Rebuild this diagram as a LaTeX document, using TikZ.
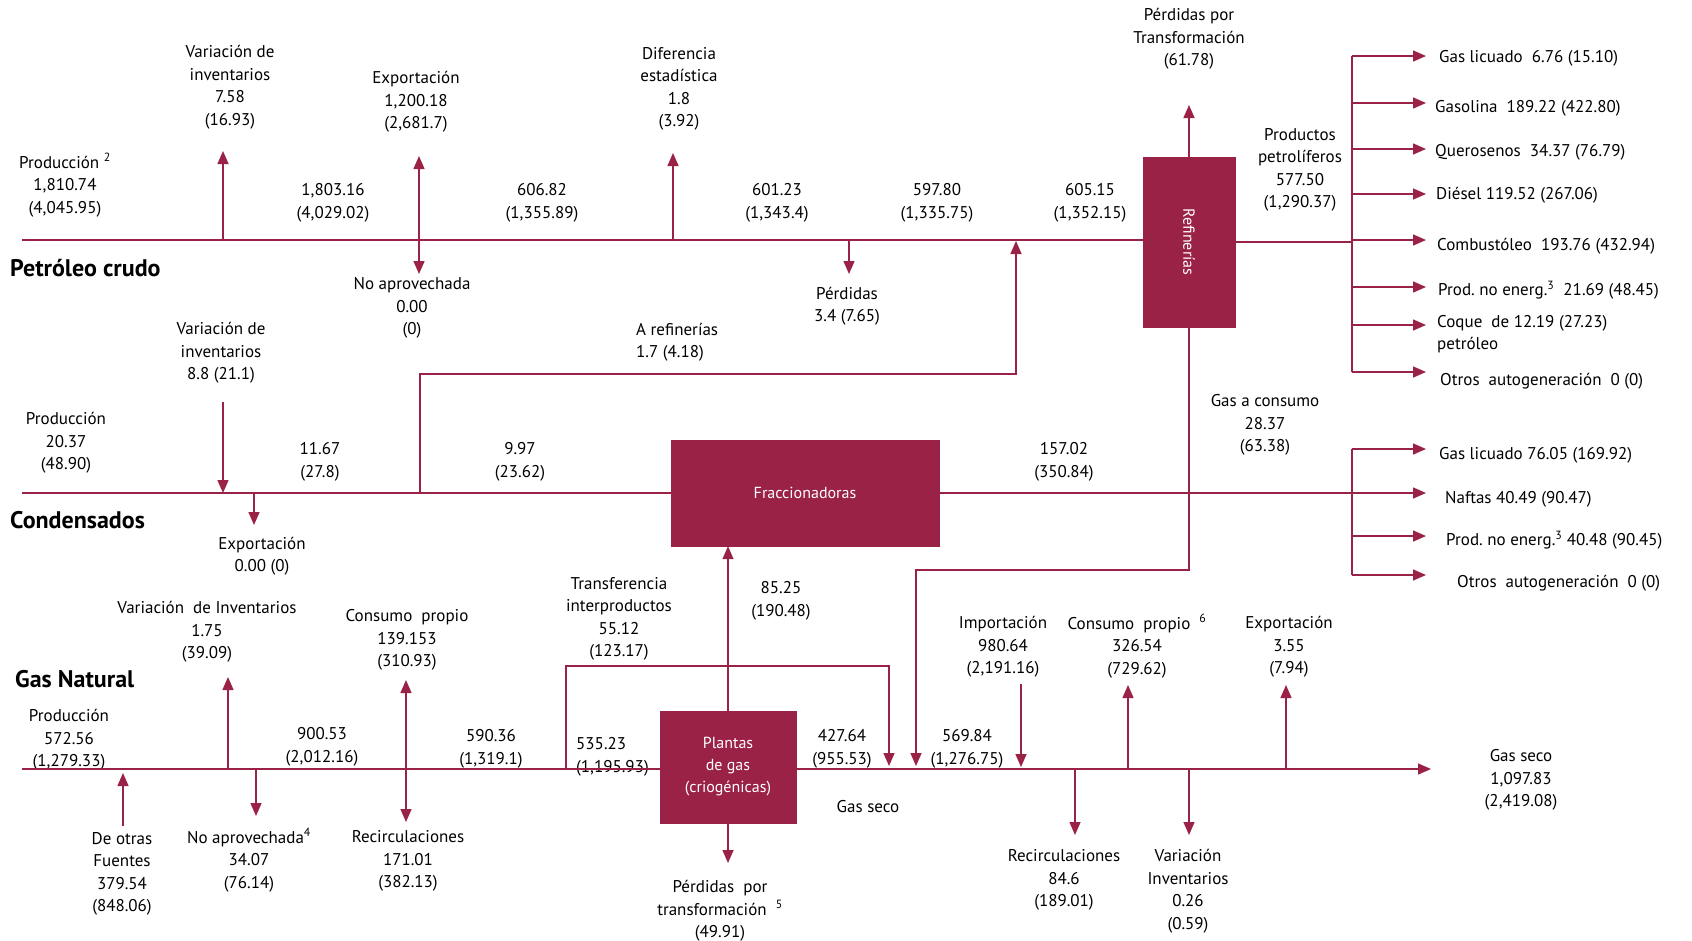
\documentclass[tikz,border=0pt]{standalone}
\usepackage{fontspec}
\setmainfont{PT Sans}
\usepackage{graphicx}
\usetikzlibrary{arrows.meta}
\definecolor{guinda}{RGB}{155,34,71}

\begin{document}
\begin{tikzpicture}[x=1pt,y=-1pt,>={Triangle[length=13pt,width=11pt]},
  flujo/.style={draw=guinda,line width=1.5pt},
  caja/.style={fill=guinda,draw=guinda,text=white,align=center,font=\fontsize{16}{22}\selectfont},
  etq/.style={align=center,inner sep=0pt,yshift=-3pt,font=\fontsize{17}{22.5}\selectfont},
  prod/.style={etq,anchor=west,align=left},
  titulo/.style={anchor=west,inner sep=0pt,font=\fontsize{24}{28}\selectfont\bfseries}]
\useasboundingbox (0,0) rectangle (1692,940);

\node[titulo] (tpc) at (10,268) {Petróleo crudo};
\node[titulo] (tcd) at (10,520) {Condensados};
\node[titulo] (tgn) at (15,679) {Gas Natural};

\node[caja,minimum width=92pt,minimum height=170pt] (refi) at (1189,242) {\rotatebox{-90}{Refinerías}};
\node[caja,minimum width=268pt,minimum height=106pt] (fracc) at (805,493) {Fraccionadoras};
\node[caja,minimum width=136pt,minimum height=112pt] (plantas) at (728,767) {Plantas\\de gas\\(criogénicas)};

\node[etq] (pcprod) at (65,182) {Producción~\textsuperscript{2}\\1,810.74\\(4,045.95)};
\node[etq] (pcvi) at (230,84) {Variación de\\inventarios\\7.58\\(16.93)};
\node[etq] (pcex) at (416,99) {Exportación\\1,200.18\\(2,681.7)};
\node[etq] (pcna) at (412,305) {No aprovechada\\0.00\\(0)};
\node[etq] (pcde) at (679,86) {Diferencia\\estadística\\1.8\\(3.92)};
\node[etq] (pcpe) at (847,303) {Pérdidas\\3.4 (7.65)};
\node[prod] (pcar) at (636,339) {A refinerías\\1.7 (4.18)};
\node[etq] (pcf1) at (333,200) {1,803.16\\(4,029.02)};
\node[etq] (pcf2) at (542,200) {606.82\\(1,355.89)};
\node[etq] (pcf3) at (777,200) {601.23\\(1,343.4)};
\node[etq] (pcf4) at (937,200) {597.80\\(1,335.75)};
\node[etq] (pcf5) at (1090,200) {605.15\\(1,352.15)};
\node[etq] (ptr) at (1189,36) {Pérdidas por\\Transformación\\(61.78)};
\node[etq] (pp) at (1300,167) {Productos\\petrolíferos\\577.50\\(1,290.37)};

\node[prod] (r1) at (1439,55) {Gas licuado\ \ 6.76 (15.10)};
\node[prod] (r2) at (1435,105) {Gasolina\ \ 189.22 (422.80)};
\node[prod] (r3) at (1435,149) {Querosenos\ \ 34.37 (76.79)};
\node[prod] (r4) at (1436,192) {Diésel 119.52 (267.06)};
\node[prod] (r5) at (1437,243) {Combustóleo\ \ 193.76 (432.94)};
\node[prod] (r6) at (1438,287) {Prod.\ no energ.\textsuperscript{3}\ \ 21.69 (48.45)};
\node[prod] (r7) at (1437,331) {Coque\ \ de 12.19 (27.23)\\petróleo};
\node[prod] (r8) at (1440,378) {Otros\ \ autogeneración\ \ 0 (0)};

\node[etq] (cdprod) at (66,440) {Producción\\20.37\\(48.90)};
\node[etq] (cdvi) at (221,350) {Variación de\\inventarios\\8.8 (21.1)};
\node[etq] (cdex) at (262,553) {Exportación\\0.00 (0)};
\node[etq] (cdf1) at (320,459) {11.67\\(27.8)};
\node[etq] (cdf2) at (520,459) {9.97\\(23.62)};
\node[etq] (cdf3) at (1064,459) {157.02\\(350.84)};
\node[etq] (gc) at (1265,422) {Gas a consumo\\28.37\\(63.38)};
\node[prod] (c1) at (1439,452) {Gas licuado 76.05 (169.92)};
\node[prod] (c2) at (1445,496) {Naftas 40.49 (90.47)};
\node[prod] (c3) at (1446,537) {Prod.\ no energ.\textsuperscript{3} 40.48 (90.45)};
\node[prod] (c4) at (1457,580) {Otros\ \ autogeneración\ \ 0 (0)};

\node[etq] (gnprod) at (69,737) {Producción\\572.56\\(1,279.33)};
\node[etq] (gnof) at (122,871) {De otras\\Fuentes\\379.54\\(848.06)};
\node[etq] (gnvi) at (207,629) {Variación\ \ de Inventarios\\1.75\\(39.09)};
\node[etq] (gnna) at (249,857) {No aprovechada\textsuperscript{4}\\34.07\\(76.14)};
\node[etq] (gnf1) at (322,744) {900.53\\(2,012.16)};
\node[etq] (gncp) at (407,637) {Consumo\ \ propio\\139.153\\(310.93)};
\node[etq] (gnrc) at (408,858) {Recirculaciones\\171.01\\(382.13)};
\node[etq] (gnf2) at (491,746) {590.36\\(1,319.1)};
\node[etq] (gnti) at (619,616) {Transferencia\\interproductos\\55.12\\(123.17)};
\node[prod] (gnf3) at (576,754) {535.23\\(1,195.93)};
\node[etq] (gnf4) at (781,598) {85.25\\(190.48)};
\node[etq] (gnpt) at (720,908) {Pérdidas\ \ por\\transformación\ \ \textsuperscript{5}\\(49.91)};
\node[etq] (gnf5) at (842,746) {427.64\\(955.53)};
\node[etq] (gnsc) at (868,804) {Gas seco};
\node[etq] (gnf6) at (967,746) {569.84\\(1,276.75)};
\node[etq] (gnim) at (1003,644) {Importación\\980.64\\(2,191.16)};
\node[etq] (gncp2) at (1137,643) {Consumo\ \ propio\ \ \textsuperscript{6}\\326.54\\(729.62)};
\node[etq] (gnex) at (1289,644) {Exportación\\3.55\\(7.94)};
\node[etq] (gnrc2) at (1064,877) {Recirculaciones\\84.6\\(189.01)};
\node[etq] (gnvi2) at (1188,888) {Variación\\Inventarios\\0.26\\(0.59)};
\node[etq] (gnfin) at (1521,777) {Gas seco\\1,097.83\\(2,419.08)};

\coordinate (pc0) at (22,240);
\coordinate (pcA) at (223,240);
\coordinate (pcAt) at (223,151);
\coordinate (pcB) at (419,240);
\coordinate (pcBt) at (419,156);
\coordinate (pcBd) at (419,274);
\coordinate (pcC) at (673,240);
\coordinate (pcCt) at (673,153);
\coordinate (pcD) at (849,240);
\coordinate (pcDt) at (849,274);
\coordinate (pcE) at (1016,241);
\coordinate (ptrt) at (1189,105);
\coordinate (rb) at (1352,242);
\coordinate (rtop) at (1352,56);
\coordinate (rbot) at (1352,372);

\coordinate (cd0) at (22,493);
\coordinate (cdA) at (223,402);
\coordinate (cdAt) at (223,493);
\coordinate (cdB) at (254,493);
\coordinate (cdBt) at (254,525);
\coordinate (cdC) at (420,493);
\coordinate (cdC1) at (420,374);
\coordinate (cdC2) at (1016,374);
\coordinate (cdend) at (1426,493);
\coordinate (ctop) at (1352,449);
\coordinate (cbot) at (1352,575);
\coordinate (gcA) at (1189,570);
\coordinate (gcB) at (916,570);
\coordinate (gcC) at (916,766);

\coordinate (gn0) at (22,769);
\coordinate (gnA) at (123,826);
\coordinate (gnAt) at (123,773);
\coordinate (gnB) at (228,769);
\coordinate (gnBt) at (228,677);
\coordinate (gnC) at (256,769);
\coordinate (gnCt) at (256,816);
\coordinate (gnD) at (406,769);
\coordinate (gnDt) at (406,680);
\coordinate (gnDd) at (406,822);
\coordinate (gnE) at (566,769);
\coordinate (gnE1) at (566,666);
\coordinate (gnE2) at (889,666);
\coordinate (gnE3) at (889,766);
\coordinate (gnPt) at (728,863);
\coordinate (gnF) at (1021,684);
\coordinate (gnFt) at (1021,767);
\coordinate (gnG) at (1075,769);
\coordinate (gnGt) at (1075,835);
\coordinate (gnH) at (1128,769);
\coordinate (gnHt) at (1128,685);
\coordinate (gnI) at (1189,769);
\coordinate (gnIt) at (1189,835);
\coordinate (gnJ) at (1286,769);
\coordinate (gnJt) at (1286,685);
\coordinate (gnend) at (1431,769);

\draw[flujo] (pc0) -- (pc0 -| refi.west);
\draw[flujo] (refi.east) -- (rb);
\draw[flujo] (rtop) -- (rbot);
\foreach \n/\y in {1/56,2/103,3/149,4/194,5/240,6/287,7/325,8/372} {
  \coordinate (ra\n) at (1352,\y);
  \coordinate (rt\n) at (1426,\y);
  \draw[flujo,->] (ra\n) -- (rt\n);
}
\draw[flujo,->] (refi.north) -- (ptrt);

\draw[flujo] (cd0) -- (fracc.west);
\draw[flujo,->] (fracc.east) -- (cdend);
\draw[flujo] (ctop) -- (cbot);
\foreach \n/\y in {1/449,3/536,4/575} {
  \coordinate (ca\n) at (1352,\y);
  \coordinate (ct\n) at (1426,\y);
  \draw[flujo,->] (ca\n) -- (ct\n);
}
\draw[flujo,->] (cdC) -- (cdC1) -- (cdC2) -- (pcE);
\draw[flujo,->] (refi.south) -- (gcA) -- (gcB) -- (gcC);

\draw[flujo] (gn0) -- (gn0 -| plantas.west);
\draw[flujo,->] (plantas.east |- gnend) -- (gnend);
\draw[flujo,->] (gnE) -- (gnE1) -- (gnE2) -- (gnE3);
\draw[flujo,->] (plantas.north) -- (plantas.north |- fracc.south);
\draw[flujo,->] (plantas.south) -- (gnPt);

\foreach \a/\b in {pcA/pcAt,pcB/pcBt,pcB/pcBd,pcC/pcCt,pcD/pcDt,
  cdA/cdAt,cdB/cdBt,
  gnA/gnAt,gnB/gnBt,gnC/gnCt,gnD/gnDt,gnD/gnDd,gnF/gnFt,gnG/gnGt,gnH/gnHt,gnI/gnIt,gnJ/gnJt}
  \draw[flujo,->] (\a) -- (\b);
\end{tikzpicture}
\end{document}
